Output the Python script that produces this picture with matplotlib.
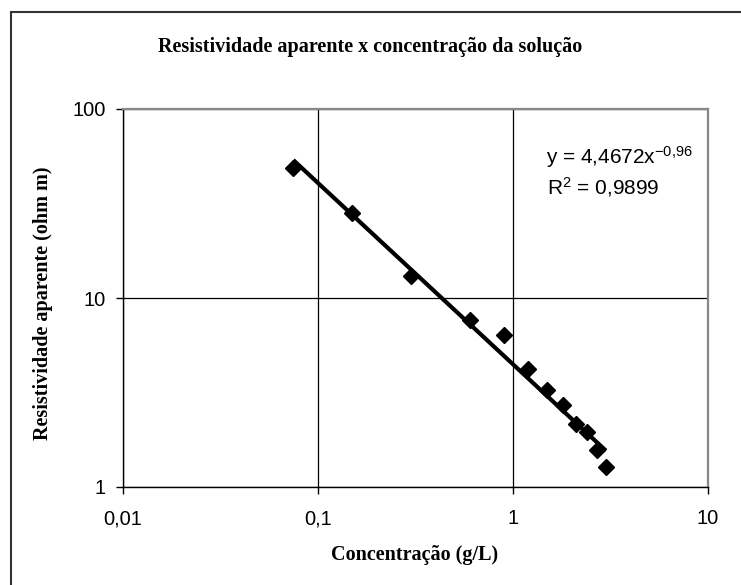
import numpy as np
import matplotlib
matplotlib.use("Agg")
import matplotlib.pyplot as plt
from matplotlib.ticker import FixedLocator, NullLocator, FixedFormatter
from matplotlib.patches import Rectangle

# Data
concentracao = [0.075, 0.15, 0.3, 0.6, 0.9, 1.2, 1.5, 1.8, 2.1, 2.4, 2.7, 3.0]
resistividade = [48.7, 28.3, 13.1, 7.65, 6.37, 4.2, 3.26, 2.72, 2.15, 1.96, 1.57, 1.28]

# Power trendline coefficients (as shown on the chart)
coef_a = 4.4672
coef_b = -0.96
r2_text = "0,9899"

x_ticks = [0.01, 0.1, 1, 10]
x_tick_labels = ["0,01", "0,1", "1", "10"]
y_ticks = [1, 10, 100]
y_tick_labels = ["1", "10", "100"]

title = "Resistividade aparente x concentração da solução"
xlabel = "Concentração (g/L)"
ylabel = "Resistividade aparente (ohm m)"

plt.rcParams["mathtext.fontset"] = "custom"
plt.rcParams["mathtext.rm"] = "Liberation Sans"

W, H = 741, 585
fig = plt.figure(figsize=(W / 100, H / 100), dpi=100)

# outer chart-area border
fig.patches.append(Rectangle((11 / W, -0.05), 1.2, 1 - 12 / H + 0.05,
                             transform=fig.transFigure, fill=False,
                             edgecolor="#333333", linewidth=1.5))

ax = fig.add_axes([122.5 / W, 1 - 487 / H, (708 - 122.5) / W, (487 - 109) / H])
ax.set_xscale("log")
ax.set_yscale("log")
ax.set_xlim(0.01, 10)
ax.set_ylim(1, 100)

ax.xaxis.set_major_locator(FixedLocator(x_ticks))
ax.xaxis.set_major_formatter(FixedFormatter(x_tick_labels))
ax.xaxis.set_minor_locator(NullLocator())
ax.yaxis.set_major_locator(FixedLocator(y_ticks))
ax.yaxis.set_major_formatter(FixedFormatter(y_tick_labels))
ax.yaxis.set_minor_locator(NullLocator())

ax.grid(True, which="major", color="black", linewidth=0.9)
ax.set_axisbelow(True)

for s in ["top", "right"]:
    ax.spines[s].set_color("#888888")
    ax.spines[s].set_linewidth(1.6)
for s in ["left", "bottom"]:
    ax.spines[s].set_color("black")
    ax.spines[s].set_linewidth(1.0)

ax.tick_params(axis="both", which="major", direction="out", length=5,
               width=1, color="black", labelsize=14.5, pad=7)
for lab in ax.get_xticklabels() + ax.get_yticklabels():
    lab.set_fontfamily("Liberation Sans")
ax.tick_params(axis="x", pad=11)

# data points
ax.plot(concentracao, resistividade, linestyle="none", marker="D",
        markersize=8.5, color="black", zorder=3)

# trendline
xs = np.array([min(concentracao), max(concentracao)])
ax.plot(xs, coef_a * xs ** coef_b, color="black", linewidth=3.0,
        solid_capstyle="butt", zorder=4)

eq = r"y = 4,4672x$\mathregular{^{-0{,}96}}$"
fig.text(619 / W, 1 - 157 / H, eq, ha="center", va="center", fontsize=15,
         family="Liberation Sans")
fig.text(603 / W, 1 - 187 / H, r"R$\mathregular{^2}$ = " + r2_text,
         ha="center", va="center", fontsize=15, family="Liberation Sans")

fig.text(370 / W, 1 - 47 / H, title, ha="center", va="center", fontsize=14.5,
         fontweight="bold", family="Liberation Serif")
fig.text(415 / W, 1 - 555 / H, xlabel, ha="center", va="center", fontsize=14.5,
         fontweight="bold", family="Liberation Serif")
fig.text(43 / W, 1 - 303 / H, ylabel, ha="center", va="center", fontsize=14.5,
         fontweight="bold", family="Liberation Serif", rotation=90)

fig.savefig("out.png", dpi=100)
